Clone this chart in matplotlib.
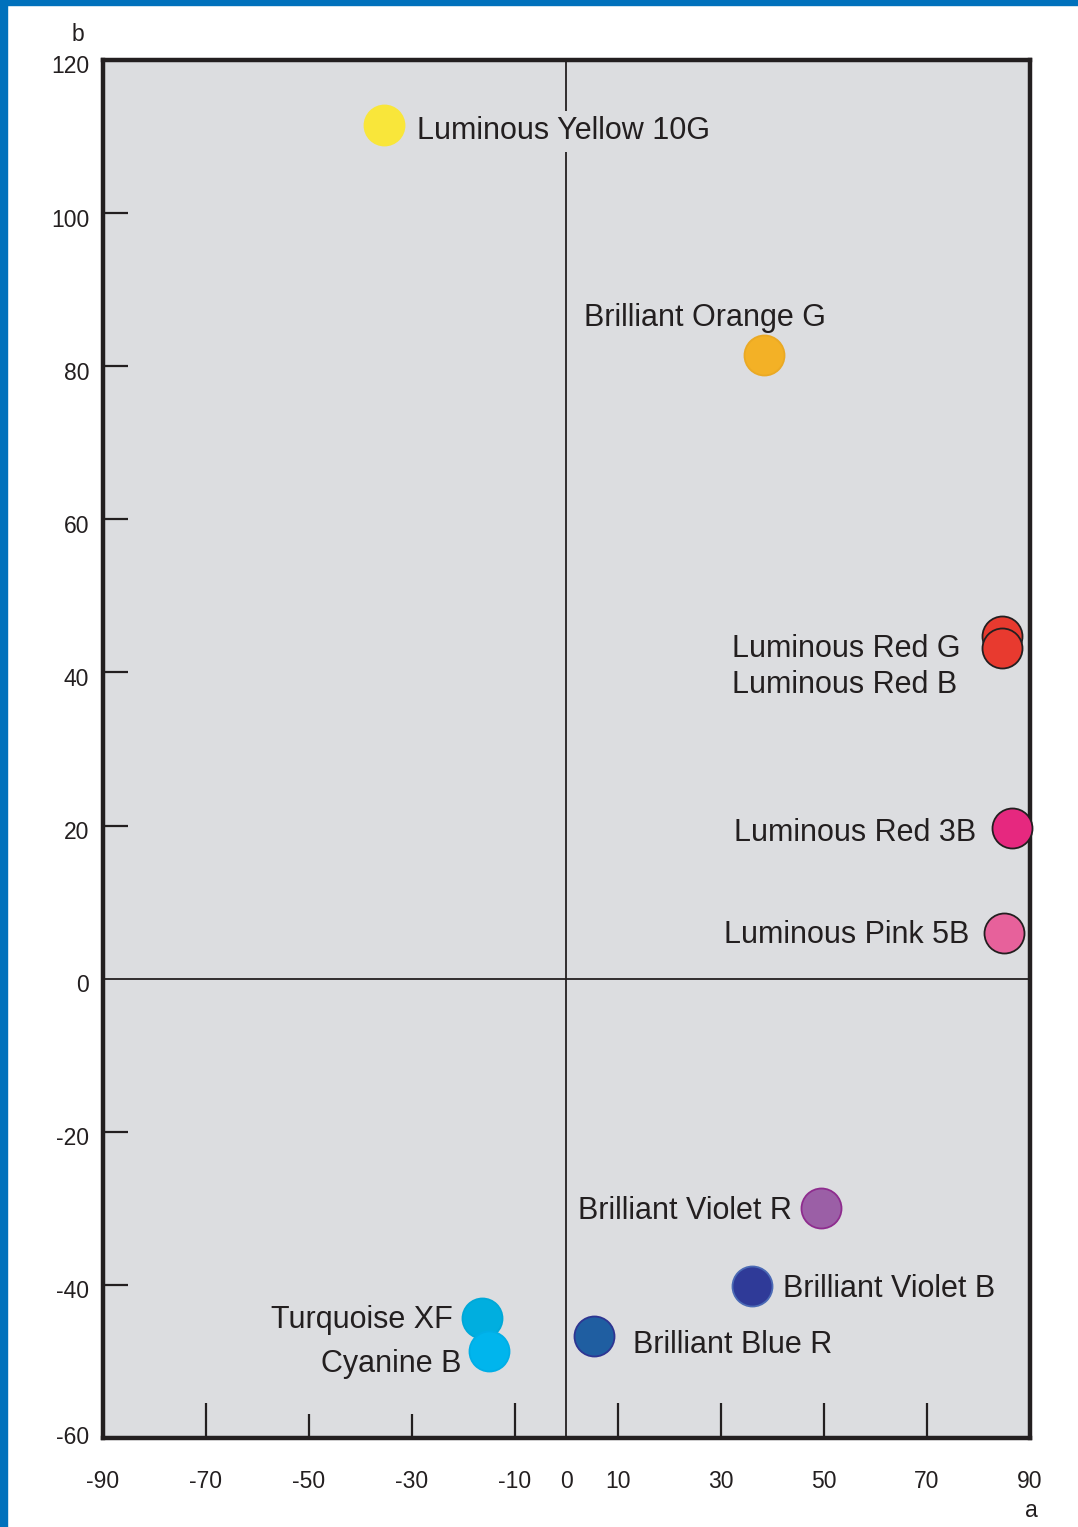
import matplotlib.pyplot as plt
from matplotlib.patches import Rectangle

plt.rcParams['font.family'] = ['Liberation Sans', 'DejaVu Sans']

names = ["Luminous Yellow 10G", "Brilliant Orange G", "Luminous Red G", "Luminous Red B",
         "Luminous Red 3B", "Luminous Pink 5B", "Brilliant Violet R", "Brilliant Violet B",
         "Brilliant Blue R", "Turquoise XF", "Cyanine B"]
a_vals = [-35.4, 38.3, 84.6, 84.6, 86.5, 85.0, 49.4, 36.0, 5.3, -16.4, -15.0]
b_vals = [111.5, 81.5, 44.8, 43.2, 19.7, 5.9, -29.9, -40.1, -46.7, -44.3, -48.6]
fills = ["#f9e63a", "#f3b126", "#e83a2f", "#e83a2f", "#e6287f", "#e7619b",
         "#9b5fa6", "#2f3a98", "#1f5ea1", "#00aedf", "#00b5ed"]
edges = ["#f9e63a", "#eaa924", "#231f20", "#231f20", "#231f20", "#231f20",
         "#8e2c8e", "#4b6ab5", "#2e3592", "#00a8d8", "#00aee6"]

# label anchor (a, b) and alignment per point
label_a = [-29.0, 3.4, 76.6, 75.9, 79.5, 78.2, 43.8, 42.0, 13.0, -22.0, -20.5]
label_b = [110.7, 86.3, 43.0, 38.3, 19.0, 5.7, -30.3, -40.6, -47.9, -44.6, -50.3]
label_ha = ["left", "left", "right", "right", "right", "right", "right", "left", "left", "right", "right"]
label_text = ["Luminous Yellow 10G", "Brilliant Orange G", "Luminous Red G", "Luminous Red B",
              "Luminous Red 3B", "Luminous Pink 5B", "Brilliant Violet R", "Brilliant Violet B",
              "Brilliant Blue R", "Turquoise XF", "Cyanine B"]

x_label_vals = [-90, -70, -50, -30, -10, 0, 10, 30, 50, 70, 90]
y_label_vals = [120, 100, 80, 60, 40, 20, 0, -20, -40, -60]
x_long_ticks = [-70, -10, 10, 30, 50, 70]
x_short_ticks = [-50, -30]
y_ticks = [100, 80, 60, 40, 20, -20, -40]

fig = plt.figure(figsize=(10.78, 15.27), dpi=100)
# blue frame on left and top
fig.patches.append(Rectangle((0, 0), 7 / 1078, 1, transform=fig.transFigure, color="#0071bc", zorder=0))
fig.patches.append(Rectangle((0, 1 - 5 / 1527), 1, 5 / 1527, transform=fig.transFigure, color="#0071bc", zorder=0))

ax = fig.add_axes([103 / 1078, 1 - 1438 / 1527, (1030 - 103) / 1078, (1438 - 60) / 1527])
ax.set_facecolor("#dcdde0")
ax.set_xlim(-90, 90)
ax.set_ylim(-60, 120)
for sp in ax.spines.values():
    sp.set_linewidth(3.2)
    sp.set_color("#231f20")

ax.axhline(0, color="#231f20", lw=1.3, zorder=1)
ax.axvline(0, color="#231f20", lw=1.3, zorder=1)

ax.set_xticks(x_long_ticks)
ax.set_xticks(x_short_ticks, minor=True)
ax.set_yticks(y_ticks)
ax.tick_params(axis="x", which="major", direction="in", length=25, width=1.6, color="#231f20", labelbottom=False)
ax.tick_params(axis="x", which="minor", direction="in", length=17, width=1.6, color="#231f20", labelbottom=False)
ax.tick_params(axis="y", which="major", direction="in", length=18, width=1.6, color="#231f20", labelleft=False)

for v in x_label_vals:
    ax.text(v, -0.023, str(v), transform=ax.get_xaxis_transform(), ha="center", va="top",
            fontsize=16.5, color="#231f20")
for v in y_label_vals:
    off = 0 if v == -60 else -0.9
    ax.text(-0.015, v + off, str(v), transform=ax.get_yaxis_transform(), ha="right", va="center",
            fontsize=16.5, color="#231f20")
ax.text(-0.027, 1.01, "b", transform=ax.transAxes, ha="center", va="bottom", fontsize=16.5, color="#231f20")
ax.text(1.002, -0.044, "a", transform=ax.transAxes, ha="center", va="top", fontsize=16.5, color="#231f20")

for i in range(len(names)):
    ax.scatter(a_vals[i], b_vals[i], s=830, color=fills[i], edgecolors=edges[i], linewidths=1.3,
               zorder=3, clip_on=False)

for i in range(len(label_text)):
    box = None
    if i == 0:
        box = dict(facecolor="#dcdde0", edgecolor="none", pad=4)
    ax.text(label_a[i], label_b[i], label_text[i], ha=label_ha[i], va="center", fontsize=22,
            color="#231f20", bbox=box, zorder=2)

fig.savefig("out.png", dpi=100)
